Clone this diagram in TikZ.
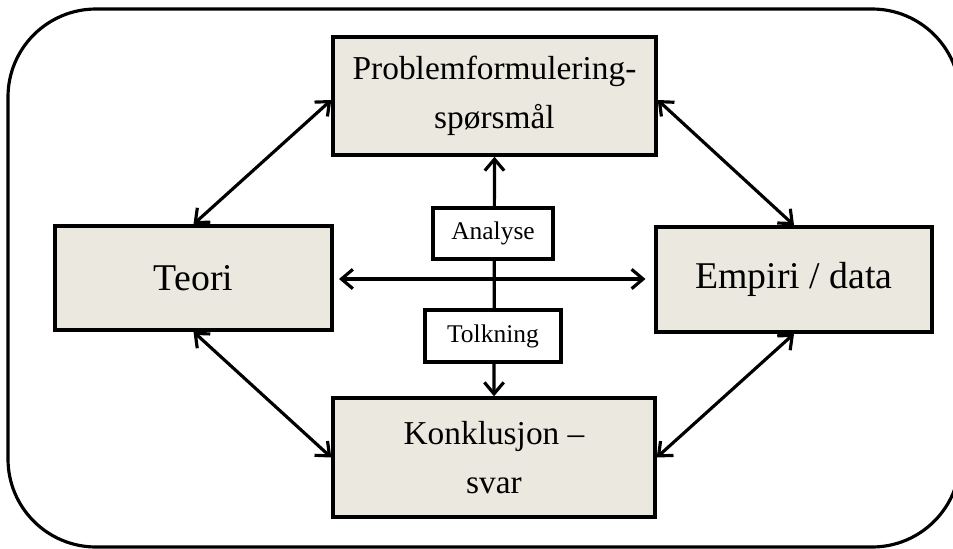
\documentclass[tikz,border=0pt]{standalone}
\usepackage{fontspec}
\setmainfont{Liberation Serif}
\usetikzlibrary{arrows.meta}
\definecolor{boxfill}{HTML}{EBE9DF}
\tikzset{
  mainbox/.style={draw=black, line width=2pt, fill=boxfill, align=center,
    font=\fontsize{19}{28}\selectfont, inner sep=0pt},
  bigtext/.style={font=\fontsize{21.5}{26}\selectfont},
  labelbox/.style={draw=black, line width=2pt, fill=white, align=center,
    font=\fontsize{14.5}{16}\selectfont, inner sep=0pt},
  conn/.style={line width=1.8pt, {Straight Barb[length=6.5pt,width=11pt,line width=1.8pt]}-{Straight Barb[length=6.5pt,width=11pt,line width=1.8pt]}}
}
\begin{document}
\begin{tikzpicture}[x=0.02cm, y=-0.02cm]
\useasboundingbox (0,0) rectangle (953,548);
\begin{scope}
\clip (0,0) rectangle (953,548);
\draw[line width=1.8pt, rounded corners=1.76cm] (8,9) rectangle (960,547);
\end{scope}

\node[mainbox, minimum width=6.46cm, minimum height=2.36cm] (prob) at (494.5,96) {Problemformulering-\\spørsmål};
\node[mainbox, bigtext, minimum width=5.54cm, minimum height=2.08cm] (teori) at (193.5,278) {Teori};
\node[mainbox, bigtext, minimum width=5.52cm, minimum height=2.1cm] (emp) at (794,279.5) {Empiri / data};
\node[mainbox, minimum width=6.44cm, minimum height=2.38cm] (konk) at (494,457.5) {Konklusjon –\\svar};

\draw[conn] (prob.south) -- (konk.north);

\node[labelbox, minimum width=2.4cm, minimum height=1.02cm] (ana) at (493,233.5) {Analyse};
\node[labelbox, minimum width=2.72cm, minimum height=1.04cm] (tolk) at (493,336) {Tolkning};

\coordinate (hr) at (teori.east -| emp.west);
\draw[conn, shorten <=3pt, shorten >=5pt] ([yshift=-0.02cm]teori.east) -- ([yshift=-0.02cm]hr);
\draw[conn] (teori.north) -- ([yshift=-0.08cm]prob.west);
\draw[conn] ([yshift=-0.08cm]prob.east) -- (emp.north);
\draw[conn] (teori.south) -- (konk.west);
\draw[conn] (konk.east) -- (emp.south);
\end{tikzpicture}
\end{document}
